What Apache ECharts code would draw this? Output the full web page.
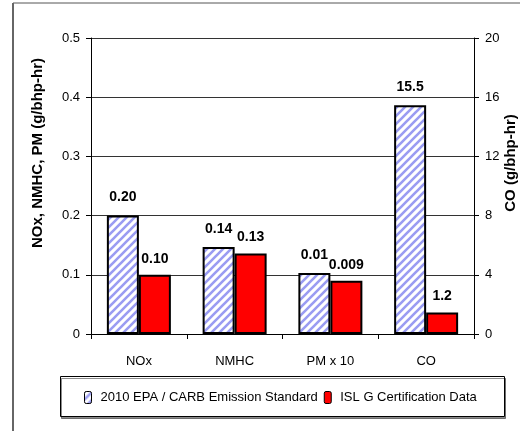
<!DOCTYPE html>
<html>
<head>
<meta charset="utf-8">
<script src="https://cdn.jsdelivr.net/npm/echarts@6/dist/echarts.min.js"></script>
<style>html,body{margin:0;padding:0;background:#fff}#c{width:520px;height:431px}</style>
</head>
<body>
<div id="c"></div>
<script>
var categories = ['NOx', 'NMHC', 'PM x 10', 'CO'];
var seriesNames = ['2010 EPA / CARB Emission Standard', 'ISL G Certification Data'];
// left-axis values (g/bhp-hr), CO on right axis
var standardLeft = [0.20, 0.147, 0.103, null];
var certLeft = [0.10, 0.136, 0.09, null];
var standardRight = [null, null, null, 15.45];
var certRight = [null, null, null, 1.45];
var standardLabels = ['0.20', '0.14', '0.01', '15.5'];
var certLabels = ['0.10', '0.13', '0.009', '1.2'];
var leftTicks = [0, 0.1, 0.2, 0.3, 0.4, 0.5];
var rightTicks = [0, 4, 8, 12, 16, 20];

var FONT = 'Liberation Sans, Arial, sans-serif';

function hatch() {
  var c = document.createElement('canvas');
  c.width = 8; c.height = 8;
  var g = c.getContext('2d');
  g.fillStyle = '#ffffff';
  g.fillRect(0, 0, 8, 8);
  g.strokeStyle = '#9a9cf2';
  g.lineWidth = 2.6;
  g.beginPath();
  g.moveTo(-2, 10); g.lineTo(10, -2);
  g.moveTo(-2, 2); g.lineTo(2, -2);
  g.moveTo(6, 10); g.lineTo(10, 6);
  g.stroke();
  return c;
}
var hatchColor = { image: hatch(), repeat: 'repeat' };

var chart = echarts.init(document.getElementById('c'), null, { renderer: 'canvas' });

function labelOf(arr, dist) {
  return {
    show: true, position: 'top', distance: dist,
    fontFamily: FONT, fontWeight: 'bold', fontSize: 14, color: '#000',
    formatter: function (p) { return arr[p.dataIndex]; }
  };
}
var stdStyle = { color: hatchColor, borderColor: '#000', borderWidth: 2 };
var certStyle = { color: '#ff0000', borderColor: '#000', borderWidth: 2 };

chart.setOption({
  animation: false,
  backgroundColor: '#fff',
  grid: { left: 91, right: 46, top: 38, bottom: 97, containLabel: false },
  graphic: [
    { type: 'line', shape: { x1: 13, y1: 3, x2: 520, y2: 3 }, style: { stroke: '#555', lineWidth: 1 } },
    { type: 'line', shape: { x1: 13, y1: 3, x2: 13, y2: 431 }, style: { stroke: '#666', lineWidth: 2 } },
    { type: 'rect', shape: { x: 60.5, y: 376.5, width: 444, height: 40 },
      style: { fill: '#fff', stroke: '#000', lineWidth: 1, shadowColor: 'rgba(0,0,0,0.45)', shadowOffsetX: 1, shadowOffsetY: 2, shadowBlur: 0 }, z: -1 },
    { type: 'text', x: 38, y: 153, rotation: Math.PI / 2,
      style: { text: 'NOx, NMHC, PM (g/bhp-hr)', fontFamily: FONT, fontWeight: 'bold', fontSize: 15, fill: '#000', align: 'center', verticalAlign: 'middle' } },
    { type: 'text', x: 511, y: 163, rotation: Math.PI / 2,
      style: { text: 'CO (g/bhp-hr)', fontFamily: FONT, fontWeight: 'bold', fontSize: 15, fill: '#000', align: 'center', verticalAlign: 'middle' } }
  ],
  legend: {
    left: 84, top: 391, itemWidth: 7, itemHeight: 12, itemGap: 6, padding: 0,
    data: seriesNames,
    textStyle: { fontFamily: FONT, fontSize: 13, color: '#000', padding: [0, 0, 0, 4] },
    itemStyle: { borderColor: '#000', borderWidth: 1 }
  },
  xAxis: [
    { type: 'category', data: categories, gridIndex: 0,
      axisLine: { lineStyle: { color: '#000', width: 1 } },
      axisTick: { show: true, length: 5, lineStyle: { color: '#000' } },
      axisLabel: { margin: 21, fontFamily: FONT, fontSize: 13, color: '#000' },
      splitLine: { show: false } },
    { type: 'category', data: categories, gridIndex: 0, show: false }
  ],
  yAxis: [
    { type: 'value', min: leftTicks[0], max: leftTicks[leftTicks.length - 1], interval: 0.1, position: 'left',
      axisLine: { show: true, lineStyle: { color: '#000' } },
      axisTick: { show: true, length: 5, lineStyle: { color: '#000' } },
      axisLabel: { margin: 11, fontFamily: FONT, fontSize: 13, color: '#000' },
      splitLine: { show: true, lineStyle: { color: '#333', width: 1 } } },
    { type: 'value', min: rightTicks[0], max: rightTicks[rightTicks.length - 1], interval: 4, position: 'right',
      axisLine: { show: true, lineStyle: { color: '#000' } },
      axisTick: { show: true, length: 5, lineStyle: { color: '#000' } },
      axisLabel: { margin: 11, fontFamily: FONT, fontSize: 13, color: '#000' },
      splitLine: { show: false } }
  ],
  series: [
    { name: seriesNames[0], type: 'bar', xAxisIndex: 0, yAxisIndex: 0, data: standardLeft,
      barWidth: 32, barGap: '0%', itemStyle: stdStyle, label: labelOf(standardLabels, 11) },
    { name: seriesNames[1], type: 'bar', xAxisIndex: 0, yAxisIndex: 0, data: certLeft,
      barWidth: 32, barGap: '0%', itemStyle: certStyle, label: labelOf(certLabels, 9) },
    { name: seriesNames[0], type: 'bar', xAxisIndex: 1, yAxisIndex: 1, data: standardRight,
      barWidth: 32, barGap: '0%', itemStyle: stdStyle, label: labelOf(standardLabels, 11) },
    { name: seriesNames[1], type: 'bar', xAxisIndex: 1, yAxisIndex: 1, data: certRight,
      barWidth: 32, barGap: '0%', itemStyle: certStyle, label: labelOf(certLabels, 9) }
  ]
});
</script>
</body>
</html>
